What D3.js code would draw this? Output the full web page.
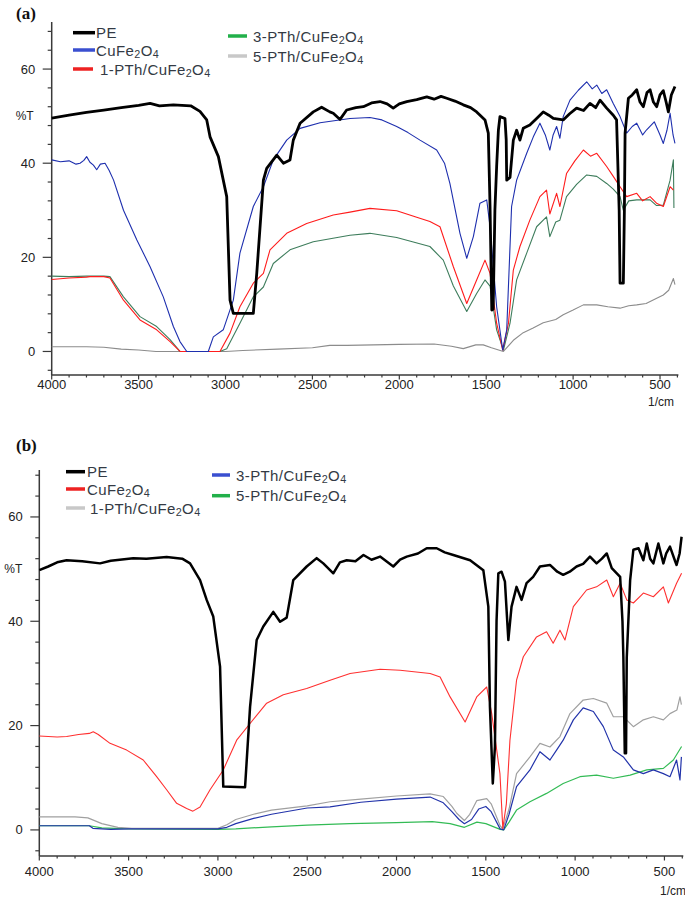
<!DOCTYPE html>
<html><head><meta charset="utf-8">
<script src="https://cdn.jsdelivr.net/npm/d3@7"></script>
<style>body{margin:0;background:#fff}</style>
</head><body>
<svg id="c" width="685" height="900"></svg>
<script>
// ---------- shared tick labels ----------
const xTickLabels = [4000,3500,3000,2500,2000,1500,1000,500];
const yTickLabels = [0,20,40,60];
const seriesNames = ["PE","CuFe2O4","1-PTh/CuFe2O4","3-PTh/CuFe2O4","5-PTh/CuFe2O4"];

// ---------- panel (a) data: [wavenumber (1/cm), %T] ----------
const a_PE = [[4000,49.6],[3900,50.2],[3800,50.8],[3700,51.3],[3600,51.8],[3500,52.3],[3434,52.7],[3380,52.2],[3300,52.4],[3200,52.2],[3147,51],[3108,49.2],[3089,45.6],[3041,41.4],[2993,32.9],[2974,10.9],[2955,8.1],[2840,8.1],[2820,16.7],[2782,36.4],[2763,38.9],[2705,41.7],[2667,40],[2629,40.7],[2610,44.9],[2571,48.5],[2495,50.9],[2447,51.9],[2400,50.9],[2380,50.6],[2341,49.3],[2303,51.3],[2250,51.8],[2207,52],[2160,52.8],[2111,53.1],[2070,52.6],[2035,51.7],[2000,52.6],[1957,53.1],[1900,53.5],[1842,54.1],[1800,53.6],[1760,54.2],[1727,53.8],[1680,53.2],[1632,52.4],[1590,51.8],[1555,50.9],[1507,49.2],[1488,46.4],[1478,30.8],[1468,8.8],[1460,9],[1450,30],[1440,39.3],[1430,47],[1421,49.9],[1392,49.5],[1385,45],[1382,36.4],[1363,37],[1344,44.9],[1325,47],[1306,44.9],[1287,47.4],[1249,48.1],[1210,49.5],[1172,50.9],[1140,50.2],[1114,49.5],[1057,49.2],[1020,50.5],[980,51.7],[940,51.2],[903,52.7],[870,51.8],[845,53.4],[807,51.7],[769,50.2],[750,49.2],[735,30],[730,14.5],[711,14.5],[705,30],[701,46.4],[682,53.8],[660,54.5],[634,55.6],[615,53],[596,52],[575,55],[557,55.6],[538,53],[519,52],[500,54.5],[481,55.4],[465,53],[452,50.9],[435,54.5],[414,56.3]];
const a_CuFe2O4 = [[4000,40.7],[3950,40.3],[3900,40.5],[3860,39.8],[3837,40],[3815,40.6],[3799,41.4],[3780,40.2],[3760,39.6],[3741,38.6],[3720,39.8],[3693,40],[3670,38.5],[3644,36.4],[3587,30],[3510,23.7],[3434,18],[3358,11.6],[3300,5.3],[3262,2.1],[3223,0],[3099,0],[3070,3.1],[3013,4.6],[2955,10.9],[2917,20.9],[2840,30.8],[2782,35],[2725,40.7],[2648,44.9],[2571,47.4],[2456,48.6],[2284,49.5],[2169,49.7],[2100,49.2],[2015,47.8],[1950,46.5],[1881,44.9],[1785,42.8],[1740,40],[1709,35.7],[1651,25.1],[1612,19.8],[1574,24.4],[1536,31.5],[1497,32.2],[1478,26.5],[1440,9.5],[1405,0.3],[1382,4.6],[1354,30.8],[1325,36.4],[1267,42.1],[1229,45.6],[1191,48.5],[1160,46],[1134,42.8],[1115,46],[1095,47.8],[1076,45.3],[1057,49.9],[1018,53.4],[970,55.5],[922,57.3],[890,55.8],[864,56.6],[835,54.8],[807,55.6],[769,52.7],[730,49.9],[692,46.4],[660,47.8],[634,48.5],[600,46],[577,47.1],[533,48.8],[500,46],[481,44.2],[460,47],[442,50.6],[425,46],[414,44.2]];
const a_PTh1 = [[4000,15.3],[3900,15.6],[3800,15.8],[3780,15.9],[3700,15.9],[3665,15.6],[3587,10.9],[3492,6.7],[3396,4.6],[3319,2.1],[3262,0],[3032,0],[2974,3.9],[2917,9.5],[2840,14.5],[2782,16.6],[2744,21.6],[2648,25.1],[2533,27.2],[2380,29],[2284,29.6],[2169,30.4],[2015,29.9],[1900,28.5],[1824,27.6],[1766,26.5],[1689,18],[1612,10.2],[1555,15.2],[1507,19.4],[1478,16.6],[1440,6],[1405,0.3],[1372,6],[1344,17.3],[1306,22.3],[1249,27.9],[1191,32.9],[1153,34.3],[1134,29.2],[1095,33.6],[1076,30.8],[1038,37.8],[990,40.5],[941,42.8],[900,41.5],[864,42.1],[807,39.3],[769,37.2],[730,35],[692,32.9],[634,33.6],[600,32],[557,32.9],[520,31.5],[481,30.8],[442,35],[423,34.3]];
const a_PTh3 = [[4000,16],[3900,15.9],[3800,16],[3700,16],[3665,15.9],[3587,11.6],[3492,7.4],[3396,5.3],[3319,2.5],[3262,0],[3032,0],[2993,0.6],[2917,6],[2840,11.6],[2782,13.7],[2725,18.7],[2629,21.6],[2495,23.3],[2284,24.7],[2169,25.1],[2015,24.2],[1824,22.3],[1747,19.4],[1689,13.9],[1612,8.5],[1555,12.3],[1507,15.2],[1478,13.9],[1440,4.6],[1401,0.3],[1363,6],[1325,15.2],[1267,20.9],[1210,26.5],[1153,28.6],[1134,24.4],[1100,27.5],[1076,27.9],[1038,32.9],[980,35.5],[922,37.5],[864,37.2],[807,35.7],[769,34.5],[730,32.9],[711,30],[680,32],[634,32.2],[557,32.2],[520,31],[481,31.1],[442,36.4],[423,40.7],[420,30.5]];
const a_PTh5 = [[4000,1],[3800,1],[3700,0.9],[3600,0.5],[3500,0.3],[3400,0],[3000,0],[2900,0.2],[2700,0.5],[2500,0.8],[2400,1.3],[2300,1.3],[2000,1.5],[1800,1.6],[1700,1.1],[1632,0.6],[1560,1.4],[1517,1.4],[1470,0.8],[1401,0],[1340,2.5],[1287,4],[1230,5],[1172,6.1],[1100,6.8],[1057,7.8],[1000,8.8],[941,9.9],[864,9.9],[800,9.5],[730,9.2],[680,9.7],[634,9.9],[580,10.2],[519,11.3],[481,12],[450,13],[423,15.5],[414,14.2]];

// ---------- panel (b) data ----------
const b_PE = [[4000,49.8],[3950,50.5],[3900,51.3],[3847,51.7],[3760,51.5],[3660,51.1],[3600,51.6],[3474,52.1],[3400,52],[3287,52.3],[3200,52],[3156,51.1],[3100,47.9],[3063,44.1],[3026,40.9],[2988,31.3],[2970,8.3],[2848,8.2],[2820,23.6],[2783,36.4],[2746,39],[2690,41.8],[2652,39.9],[2615,40.7],[2578,47.9],[2503,50.5],[2447,52.1],[2410,51.1],[2354,49.2],[2317,51.3],[2279,51.7],[2230,51.5],[2185,52.7],[2140,51.8],[2092,52.4],[2018,50.5],[1980,51.8],[1943,52.4],[1880,53],[1831,54],[1775,54],[1730,53.2],[1682,52.7],[1588,51.7],[1514,49.8],[1486,42.8],[1477,23.6],[1461,8.9],[1449,16],[1440,40],[1430,49.2],[1412,49.5],[1393,47.6],[1374,36.4],[1356,42.8],[1328,46.6],[1300,44.1],[1272,47.3],[1235,48.5],[1197,50.5],[1141,50.8],[1100,49.5],[1067,48.9],[1030,49.5],[992,50.5],[955,51],[917,52.4],[880,51.1],[850,52],[823,53],[795,50.2],[748,48.5],[735,40],[730,33.2],[722,14.7],[715,14.7],[711,33],[692,47.9],[674,53.7],[645,54],[618,51.7],[599,54.9],[580,52],[562,51.1],[534,54.9],[506,51.1],[490,53],[469,54.3],[440,51.5],[432,50.8],[415,53],[404,56.2]];
const b_CuFe2O4 = [[4000,18],[3900,17.8],[3847,17.9],[3780,18.3],[3720,18.5],[3698,18.8],[3670,18.3],[3604,16.6],[3511,15.3],[3418,13.4],[3343,10.2],[3287,7.7],[3231,5.1],[3175,4.1],[3140,3.6],[3100,4.4],[3044,7.7],[2970,11.5],[2895,17.2],[2820,20.4],[2727,24.3],[2634,25.9],[2503,27.1],[2372,28.7],[2260,30],[2092,30.8],[1980,30.6],[1812,30],[1756,29.3],[1700,25.5],[1616,20.7],[1551,25.5],[1495,27.4],[1467,22.3],[1421,10.8],[1405,0.3],[1385,5],[1365,17.2],[1328,28.7],[1290,33.2],[1216,37],[1160,38],[1123,35.8],[1085,38.3],[1057,36.4],[1010,42.8],[936,46],[880,46.6],[823,47.9],[786,44.7],[748,47.3],[711,44.1],[674,43.5],[618,45.4],[562,44.7],[506,46.6],[478,43.5],[432,47.3],[404,49.2]];
const b_PTh1 = [[4000,2.5],[3800,2.5],[3728,2.3],[3650,1.2],[3560,0.5],[3482,0.3],[3000,0.3],[2950,1],[2900,2],[2800,3],[2700,3.8],[2500,4.6],[2372,5.4],[2200,5.9],[2000,6.5],[1812,6.9],[1738,6.4],[1690,4.5],[1663,3.2],[1620,1.8],[1590,3],[1551,5.6],[1495,6],[1470,5],[1420,0.8],[1405,0.2],[1370,4],[1328,10.8],[1253,14],[1197,16.6],[1141,15.9],[1085,17.9],[1029,22.3],[955,24.9],[898,25.2],[823,24.3],[786,21.7],[730,21.7],[674,19.8],[618,21.1],[562,21.7],[506,21.1],[469,22.3],[430,23],[413,25.5],[405,24]];
const b_PTh3 = [[4000,0.8],[3720,0.8],[3700,0.3],[3600,0.1],[3500,0.2],[3000,0.2],[2950,0.5],[2900,1.2],[2800,2.2],[2700,3],[2500,4.2],[2372,4.4],[2200,5.3],[2000,5.9],[1812,6.3],[1738,5.2],[1690,3.5],[1650,2],[1620,1.2],[1580,2],[1540,4],[1500,4.5],[1470,3.5],[1420,0.2],[1400,0],[1370,3],[1328,8.3],[1253,11.5],[1197,15],[1141,13.4],[1104,15.3],[1067,17.2],[1010,21.1],[955,23.4],[898,22.7],[842,19.8],[786,15.3],[730,14],[674,11.5],[618,10.8],[562,11.5],[506,10.8],[469,10.2],[432,13.4],[413,9.6],[405,14]];
const b_PTh5 = [[4000,0.8],[3720,0.8],[3650,0.4],[3500,0.2],[3000,0.1],[2900,0.2],[2700,0.6],[2500,0.9],[2262,1.2],[2000,1.4],[1800,1.6],[1700,1.2],[1620,0.5],[1550,1.5],[1500,1.2],[1420,0.1],[1400,0],[1370,1.5],[1328,3.8],[1253,5.4],[1160,7],[1067,8.9],[973,10.2],[880,10.5],[786,9.9],[692,10.5],[599,11.5],[506,11.8],[450,13.4],[404,16]];

// ---------- drawing ----------
const svg = d3.select("#c");
const axisColor = "#3a3a3a";
const legendFont = "'Liberation Sans', Arial, sans-serif";
const tickFont = "'Liberation Sans', Arial, sans-serif";

function addLabel(sel, txt) {
  // digits directly after a letter are rendered as subscripts
  const parts = txt.split(/(?<=[A-Za-z])(\d)/).map((p, i) => ({p, sub: i % 2 === 1})).filter(o => o.p !== "");
  let prevSub = false;
  parts.forEach(o => {
    const t = sel.append("tspan").text(o.p);
    if (o.sub) t.attr("font-size", "0.72em").attr("dy", 2);
    else if (prevSub) t.attr("dy", -2);
    prevSub = o.sub;
  });
}

function panel(cfg) {
  const g = svg.append("g");
  const x = d3.scaleLinear().domain([4000, 400]).range([cfg.left, cfg.right]);
  const y = d3.scaleLinear().domain(cfg.yDomain).range([cfg.bottom, cfg.top]);

  // title
  g.append("text").attr("x", 16).attr("y", cfg.titleY)
    .attr("font-family", "'Liberation Serif', 'Times New Roman', serif")
    .attr("font-weight", "bold").attr("font-size", 17).attr("fill", "#111")
    .text(cfg.title);

  // x axis (minor every 100, labels every 500)
  const xa = g.append("g").attr("transform", `translate(0,${cfg.bottom})`);
  xa.append("line").attr("x1", cfg.left).attr("x2", cfg.right + 1).attr("y1", 0).attr("y2", 0)
    .attr("stroke", axisColor).attr("stroke-width", 1.5);
  d3.range(4000, 399, -100).forEach(v => {
    const major = v % 500 === 0;
    xa.append("line").attr("x1", x(v)).attr("x2", x(v)).attr("y1", 0).attr("y2", major ? 4.5 : 2.5)
      .attr("stroke", axisColor).attr("stroke-width", 1.2);
  });
  xTickLabels.forEach(v => {
    xa.append("text").attr("x", x(v)).attr("y", cfg.xLabelDy).attr("text-anchor", "middle")
      .attr("font-family", tickFont).attr("font-size", 13).attr("fill", "#222").text(v);
  });
  g.append("text").attr("x", cfg.unitX).attr("y", cfg.unitY).attr("text-anchor", "middle")
    .attr("font-family", tickFont).attr("font-size", 12).attr("fill", "#222").text("1/cm");

  // y axis (minor every 4, labels every 20)
  const ya = g.append("g").attr("transform", `translate(${cfg.left},0)`);
  ya.append("line").attr("x1", 0).attr("x2", 0).attr("y1", cfg.top).attr("y2", cfg.bottom)
    .attr("stroke", axisColor).attr("stroke-width", 1.5);
  d3.range(-4, cfg.yDomain[1] + 0.01, 4).forEach(v => {
    const major = v % 20 === 0;
    ya.append("line").attr("x1", major ? -9 : -4).attr("x2", 0).attr("y1", y(v)).attr("y2", y(v))
      .attr("stroke", axisColor).attr("stroke-width", 1.2);
  });
  yTickLabels.forEach(v => {
    ya.append("text").attr("x", -16.5).attr("y", y(v) + 4.5).attr("text-anchor", "end")
      .attr("font-family", tickFont).attr("font-size", 13).attr("fill", "#222").text(v);
  });
  ya.append("text").attr("x", cfg.pctX).attr("y", y(50) + 4).attr("text-anchor", "start")
    .attr("font-family", tickFont).attr("font-size", 12).attr("fill", "#222").text("%T");

  // curves
  const line = d3.line().x(d => x(d[0])).y(d => y(d[1]));
  cfg.series.forEach(s => {
    g.append("path").datum(s.data).attr("d", line).attr("fill", "none")
      .attr("stroke", s.color).attr("stroke-width", s.width)
      .attr("stroke-linejoin", "round");
  });

  // legend
  cfg.legend.forEach(l => {
    g.append("line").attr("x1", l.x).attr("x2", l.x + l.w).attr("y1", l.y).attr("y2", l.y)
      .attr("stroke", l.color).attr("stroke-width", 3.5);
    const t = g.append("text").attr("x", l.tx).attr("y", l.y + 5.5)
      .attr("font-family", legendFont).attr("font-size", 15).attr("letter-spacing", 0.4)
      .attr("fill", "#333a44");
    addLabel(t, l.name);
  });
}

panel({
  title: "(a)", titleY: 19,
  left: 51.7, right: 677.4, top: 22, bottom: 375, yDomain: [-5, 70],
  xLabelDy: 14, unitX: 661, unitY: 406, pctX: -36,
  series: [
    {data: a_PTh5, color: "#8c8c8c", width: 1.1},
    {data: a_PTh3, color: "#3e7d5c", width: 1.1},
    {data: a_PTh1, color: "#ff1c1c", width: 1.1},
    {data: a_CuFe2O4, color: "#1e2fae", width: 1.1},
    {data: a_PE, color: "#000000", width: 2.8}
  ],
  legend: [
    {name: seriesNames[0], color: "#000", x: 73, w: 22, y: 32.7, tx: 96},
    {name: seriesNames[1], color: "#3a4fd0", x: 73, w: 22, y: 50, tx: 96},
    {name: seriesNames[2], color: "#ee2222", x: 73, w: 20, y: 69, tx: 100},
    {name: seriesNames[3], color: "#22b04a", x: 228, w: 19, y: 36, tx: 253},
    {name: seriesNames[4], color: "#c8c8c8", x: 228, w: 19, y: 56, tx: 253}
  ]
});

panel({
  title: "(b)", titleY: 451,
  left: 39.3, right: 682.3, top: 470, bottom: 856, yDomain: [-5, 69],
  xLabelDy: 20, unitX: 673, unitY: 895, pctX: -35,
  series: [
    {data: b_PTh5, color: "#33bb55", width: 1.2},
    {data: b_PTh1, color: "#a0a0a0", width: 1.2},
    {data: b_PTh3, color: "#2233aa", width: 1.2},
    {data: b_CuFe2O4, color: "#ff3030", width: 1.1},
    {data: b_PE, color: "#000000", width: 2.5}
  ],
  legend: [
    {name: seriesNames[0], color: "#000", x: 66, w: 19, y: 471.7, tx: 87},
    {name: seriesNames[1], color: "#ee2222", x: 66, w: 19, y: 489, tx: 87},
    {name: seriesNames[2], color: "#c8c8c8", x: 66, w: 19, y: 508, tx: 90},
    {name: seriesNames[3], color: "#3a4fd0", x: 212, w: 18, y: 475, tx: 236},
    {name: seriesNames[4], color: "#22b04a", x: 212, w: 18, y: 495.7, tx: 236}
  ]
});
</script>
</body></html>
